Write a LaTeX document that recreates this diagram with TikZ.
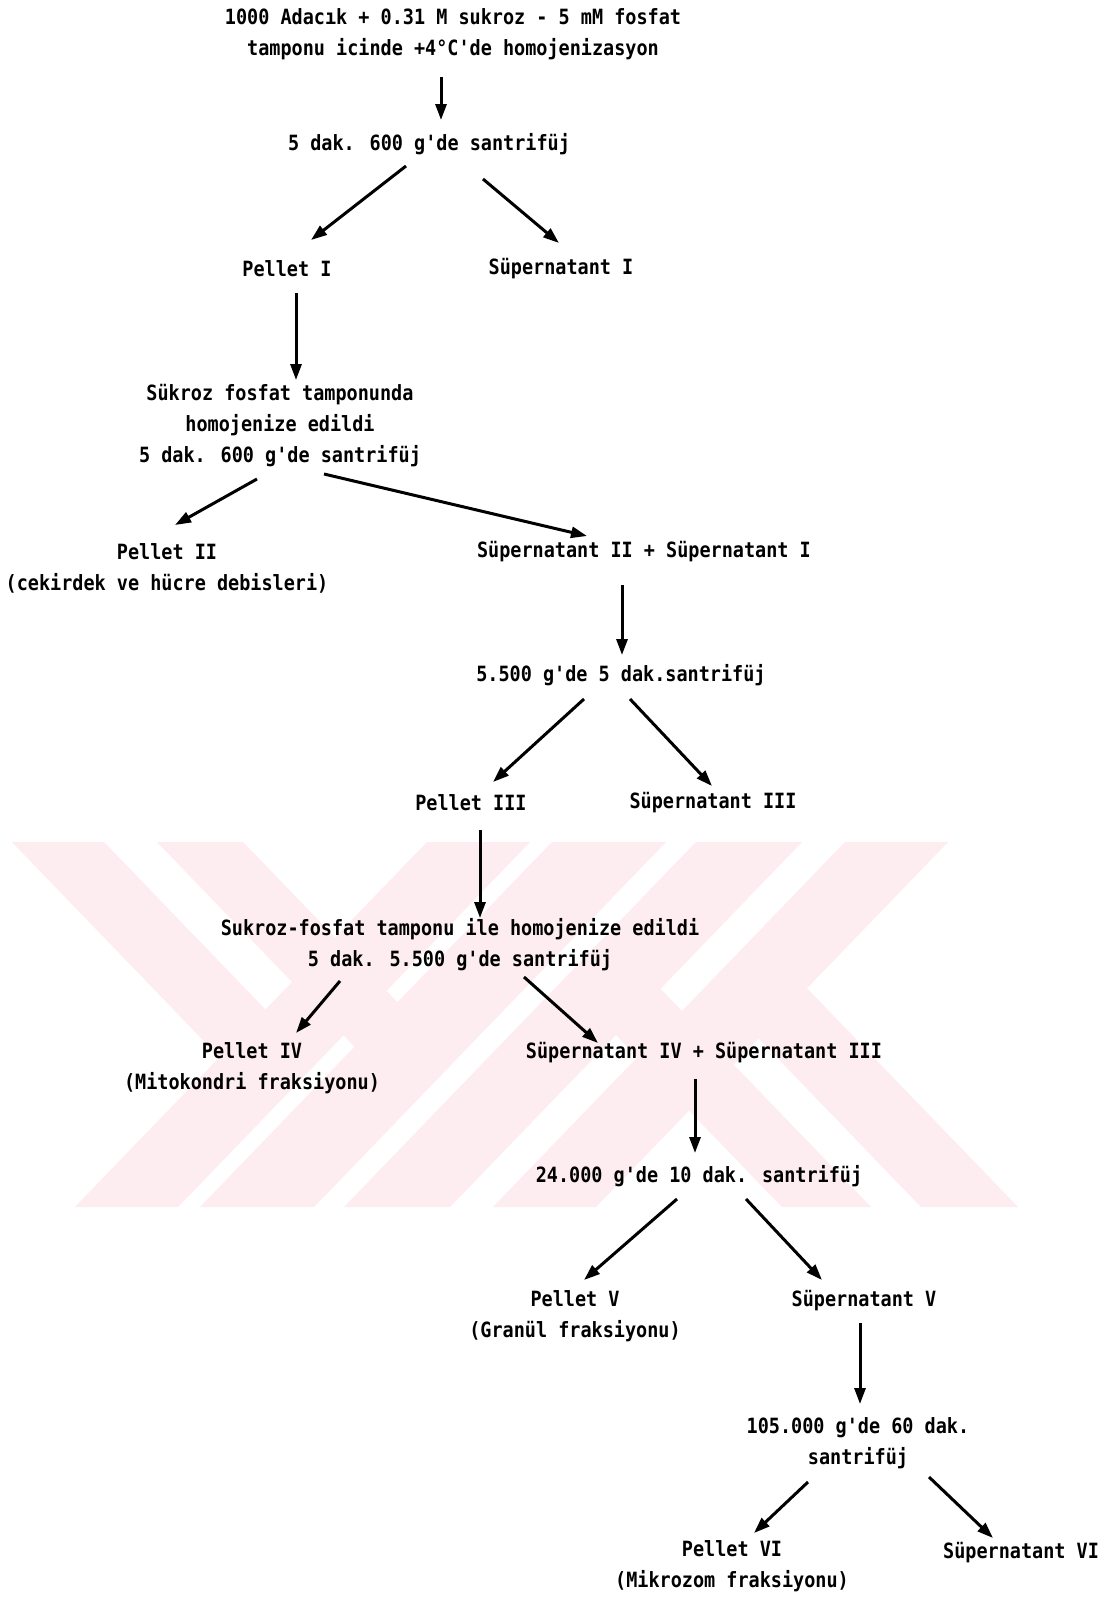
\documentclass[tikz,border=0pt]{standalone}
\usepackage{fontspec}
\usetikzlibrary{arrows.meta,calc}
\newfontfamily\dmfont[FakeStretch=0.88]{DejaVu Sans Mono}
\definecolor{wm}{RGB}{253,237,240}
\begin{document}
\begin{tikzpicture}[x=1pt,y=-1pt,
  lbl/.style={font=\dmfont\bfseries\fontsize{21}{31}\selectfont, align=center, inner sep=0pt, text=black},
  arr/.style={line width=3pt, -{Triangle[length=16pt,width=11pt]}}]
\useasboundingbox[fill=white] (0,0) rectangle (1111,1599);
% watermark
\begin{scope}[wm]
\fill (427,842) -- (530,842) -- (178,1207) -- (75,1207) -- cycle;
\fill (552,842) -- (666,842) -- (314,1207) -- (200,1207) -- cycle;
\fill (696,842) -- (802,842) -- (450,1207) -- (344,1207) -- cycle;
\fill (845,842) -- (948,842) -- (596,1207) -- (493,1207) -- cycle;
\fill (12,842) -- (104,842) -- (291.2,1036.2) -- (245.3,1084) -- cycle;
\fill (157,842) -- (243,842) -- (426,1031.8) -- (383,1076.3) -- cycle;
\fill (782,1207) -- (871,1207) -- (634,961.3) -- (589.5,1007.4) -- cycle;
\fill (921,1207) -- (1018,1207) -- (781.2,961.5) -- (732.8,1011.8) -- cycle;
\end{scope}
% nodes
\node[lbl] (n1) at (453,34) {1000 Adacık + 0.31 M sukroz - 5 mM fosfat\\tamponu icinde +4°C'de homojenizasyon};
\node[lbl] (n2) at (429,144) {5 dak. 600 g'de santrifüj};
\node[lbl] (n3) at (287,269) {Pellet I};
\node[lbl] (n4) at (561,269) {Süpernatant I};
\node[lbl] (n5) at (280,425.5) {Sükroz fosfat tamponunda\\homojenize edildi\\5 dak. 600 g'de santrifüj};
\node[lbl] (n6) at (167,568) {Pellet II\\(cekirdek ve hücre debisleri)};
\node[lbl] (n8) at (644,552) {Süpernatant II + Süpernatant I};
\node[lbl] (n9) at (621,675) {5.500 g'de 5 dak.santrifüj};
\node[lbl] (n10) at (471,803) {Pellet III};
\node[lbl] (n11) at (713,803) {Süpernatant III};
\node[lbl] (n12) at (460,944.5) {Sukroz-fosfat tamponu ile homojenize edildi\\5 dak. 5.500 g'de santrifüj};
\node[lbl] (n13) at (252,1068.5) {Pellet IV\\(Mitokondri fraksiyonu)};
\node[lbl] (n14) at (704,1053) {Süpernatant IV + Süpernatant III};
\node[lbl] (n15) at (699,1176) {24.000 g'de 10 dak. santrifüj};
\node[lbl] (n16) at (575,1316.5) {Pellet V\\(Granül fraksiyonu)};
\node[lbl] (n17) at (864,1301) {Süpernatant V};
\node[lbl] (n18) at (858,1443) {105.000 g'de 60 dak.\\santrifüj};
\node[lbl] (n19) at (732,1566.5) {Pellet VI\\(Mikrozom fraksiyonu)};
\node[lbl] (n20) at (1021,1553) {Süpernatant VI};
% arrows
\draw[arr] ($(n1.center)+(-12,43)$) -- ($(n2.center)+(12,-24)$);
\draw[arr] ($(n2.center)+(-23,22)$) -- ($(n3.center)+(24,-29)$);
\draw[arr] ($(n2.center)+(54,35)$) -- ($(n4.center)+(-2,-26)$);
\draw[arr] ($(n3.center)+(9,24)$) -- ($(n5.center)+(16,-45.5)$);
\draw[arr] ($(n5.center)+(-23,53.5)$) -- ($(n6.center)+(8,-43)$);
\draw[arr] ($(n5.center)+(44,48.5)$) -- ($(n8.center)+(-57,-16)$);
\draw[arr] ($(n8.center)+(-22,33)$) -- ($(n9.center)+(1,-20)$);
\draw[arr] ($(n9.center)+(-37,24)$) -- ($(n10.center)+(22,-21)$);
\draw[arr] ($(n9.center)+(9,24)$) -- ($(n11.center)+(-1,-17)$);
\draw[arr] ($(n10.center)+(9,27)$) -- ($(n12.center)+(20,-26.5)$);
\draw[arr] ($(n12.center)+(-120,36.5)$) -- ($(n13.center)+(44,-35.5)$);
\draw[arr] ($(n12.center)+(64,32.5)$) -- ($(n14.center)+(-106,-10)$);
\draw[arr] ($(n14.center)+(-9,26)$) -- ($(n15.center)+(-4,-23)$);
\draw[arr] ($(n15.center)+(-22,23)$) -- ($(n16.center)+(9,-36.5)$);
\draw[arr] ($(n15.center)+(47,23)$) -- ($(n17.center)+(-42,-21)$);
\draw[arr] ($(n17.center)+(-4,22)$) -- ($(n18.center)+(2,-39)$);
\draw[arr] ($(n18.center)+(-50,39)$) -- ($(n19.center)+(22,-33.5)$);
\draw[arr] ($(n18.center)+(71,34)$) -- ($(n20.center)+(-28,-15)$);
\end{tikzpicture}
\end{document}
